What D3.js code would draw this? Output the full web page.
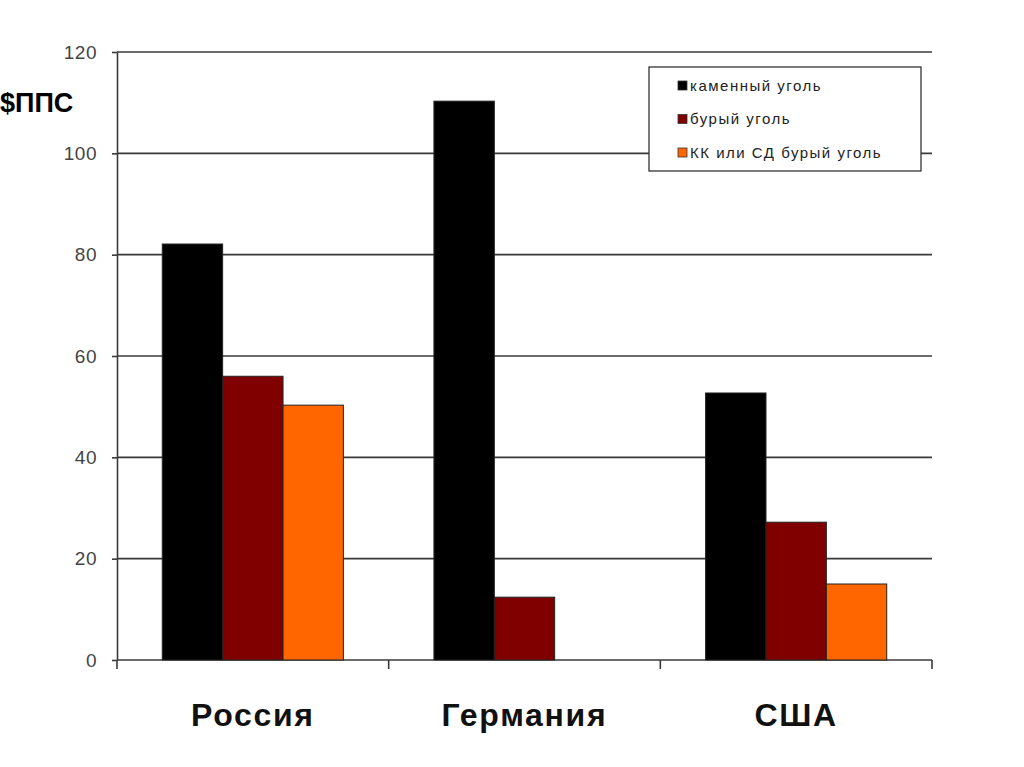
<!DOCTYPE html>
<meta charset="utf-8">
<title>Уголь</title>
<style>
body { margin: 0; background: #fff; }
svg { font-family: "Liberation Sans", Arial, sans-serif; }
.grid line { stroke: #3a3a3a; stroke-width: 1.6; }
.axis path, .axis line { stroke: #3a3a3a; stroke-width: 1.6; }
.ylab { font-size: 19px; fill: #444; letter-spacing: 0.5px; }
.cat { font-size: 32px; font-weight: bold; fill: #111; letter-spacing: 1.7px; }
.leg { font-size: 15px; fill: #222; letter-spacing: 1.5px; }
</style>
<body>
<script src="https://d3js.org/d3.v7.min.js"></script>
<script>

var countries = ["Россия", "Германия", "США"];
var seriesNames = ["каменный уголь", "бурый уголь", "КК или СД бурый уголь"];
var hardCoal = [82.1, 110.3, 52.7];
var brownCoal = [56, 12.4, 27.2];
var ccBrownCoal = [50.3, null, 15];
var yTicks = [0, 20, 40, 60, 80, 100, 120];
var colors = ["#000000", "#800000", "#ff6600"];

var width = 1024, height = 767;
var mLeft = 117, mRight = 932, mTop = 52, mBottom = 660;

var svg = d3.select("body").append("svg")
    .attr("width", width)
    .attr("height", height);

var x0 = d3.scaleBand().domain(countries).range([mLeft, mRight]).padding(0);
var bw = x0.bandwidth();
var barW = bw / 4.5; // excel gap width 150%
var x1 = d3.scaleBand().domain(seriesNames).range([barW * 0.75, bw - barW * 0.75]).padding(0);

var y = d3.scaleLinear().domain([0, 120]).range([mBottom, mTop]);

// grid
svg.append("g").attr("class", "grid")
  .selectAll("line").data(yTicks.slice(1)).enter().append("line")
    .attr("x1", mLeft).attr("x2", mRight)
    .attr("y1", function(d) { return y(d); })
    .attr("y2", function(d) { return y(d); });

// y axis
var yAxis = svg.append("g").attr("class", "axis")
    .attr("transform", "translate(" + mLeft + ",0)")
    .call(d3.axisLeft(y).tickValues(yTicks).tickSize(5).tickSizeOuter(0).tickFormat(""));
yAxis.selectAll(".ylab").data(yTicks).enter().append("text")
    .attr("class", "ylab")
    .attr("x", -20)
    .attr("y", function(d) { return y(d); })
    .attr("dy", "0.35em")
    .attr("text-anchor", "end")
    .text(function(d) { return d; });

// x axis
svg.append("line")
    .attr("x1", mLeft).attr("x2", mRight).attr("y1", mBottom).attr("y2", mBottom)
    .attr("stroke", "#3a3a3a").attr("stroke-width", 1.6);
var bounds = countries.map(function(c) { return x0(c); }).concat([mRight]);
svg.append("g").selectAll("line").data(bounds).enter().append("line")
    .attr("x1", function(d) { return d; }).attr("x2", function(d) { return d; })
    .attr("y1", mBottom).attr("y2", mBottom + 9)
    .attr("stroke", "#3a3a3a").attr("stroke-width", 1.6);

svg.append("g").selectAll("text").data(countries).enter().append("text")
    .attr("class", "cat")
    .attr("x", function(d) { return x0(d) + bw / 2; })
    .attr("y", 726)
    .attr("text-anchor", "middle")
    .text(function(d) { return d; });

// bars
var series = [hardCoal, brownCoal, ccBrownCoal];
var rows = [];
countries.forEach(function(c, i) {
  series.forEach(function(s, j) {
    if (s[i] != null) rows.push({c: c, s: seriesNames[j], v: s[i], col: colors[j]});
  });
});
svg.append("g").selectAll("rect").data(rows).enter().append("rect")
    .attr("x", function(d) { return x0(d.c) + x1(d.s); })
    .attr("y", function(d) { return y(d.v); })
    .attr("width", x1.bandwidth())
    .attr("height", function(d) { return y(0) - y(d.v); })
    .attr("fill", function(d) { return d.col; })
    .attr("stroke", "#222")
    .attr("stroke-width", 1);

// units label
svg.append("text")
    .attr("x", 0).attr("y", 112)
    .style("font-size", "27px").style("font-weight", "bold").style("fill", "#000")
    .text("$ППС");

// legend
var lg = svg.append("g").attr("transform", "translate(649,67)");
lg.append("rect").attr("width", 272).attr("height", 104)
    .attr("fill", "#fff").attr("stroke", "#333").attr("stroke-width", 1.3);
seriesNames.forEach(function(n, i) {
  lg.append("rect").attr("x", 29).attr("y", 14 + i * 33.5).attr("width", 9).attr("height", 9)
    .attr("fill", colors[i]).attr("stroke", "#333").attr("stroke-width", 0.8);
  lg.append("text").attr("class", "leg").attr("x", 41).attr("y", 23.5 + i * 33.5).text(n);
});

</script>
